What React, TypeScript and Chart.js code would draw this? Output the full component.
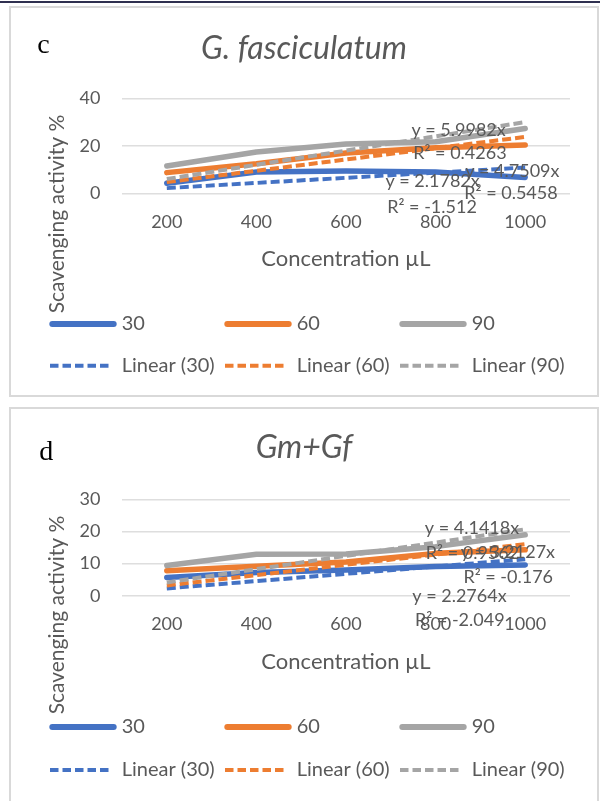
import React, { useEffect, useRef } from 'react';
import { Chart, registerables } from 'chart.js';

Chart.register(...registerables);

// ---------- data ----------
const categories = ['200', '400', '600', '800', '1000'];
const seriesLabels = ['30', '60', '90'];
const trendLabels = ['Linear (30)', 'Linear (60)', 'Linear (90)'];
const seriesColors = ['#4472C4', '#ED7D31', '#A5A5A5'];

// panel c : G. fasciculatum
const fascValues30 = [4.2, 9.0, 9.4, 9.0, 6.7];
const fascValues60 = [8.7, 12.4, 17.0, 19.2, 20.3];
const fascValues90 = [11.5, 17.4, 20.8, 21.7, 27.3];
const fascTrend30 = [2.18, 4.36, 6.53, 8.71, 10.89];
const fascTrend60 = [4.75, 9.5, 14.25, 19.0, 23.75];
const fascTrend90 = [6.0, 12.0, 17.99, 23.99, 29.99];
const fascNoteText = ['y = 5.9982x', 'R² = 0.4263', 'y = 4.7509x', 'R² = 0.5458', 'y = 2.1782x', 'R² = -1.512'];
const fascNoteX = [2.73, 2.75, 3.33, 3.32, 2.44, 2.46];
const fascNoteY = [26.4, 17.0, 9.4, 0.1, 5.3, -5.8];
const fascTicks = [0, 20, 40];

// panel d : Gm+Gf
const mixValues30 = [5.7, 7.2, 8.0, 9.1, 9.6];
const mixValues60 = [7.8, 9.2, 10.5, 13.2, 14.3];
const mixValues90 = [9.4, 12.9, 13.0, 15.3, 19.0];
const mixTrend30 = [2.28, 4.55, 6.83, 9.11, 11.38];
const mixTrend60 = [3.21, 6.43, 9.64, 12.85, 16.06];
const mixTrend90 = [4.14, 8.28, 12.43, 16.57, 20.71];
const mixNoteText = ['y = 4.1418x', 'R² = 0.9562', 'y = 3.2127x', 'R² = -0.176', 'y = 2.2764x', 'R² = -2.049'];
const mixNoteX = [2.88, 2.89, 3.28, 3.31, 2.74, 2.77];
const mixNoteY = [21.1, 13.2, 13.7, 5.9, -0.3, -7.6];
const mixTicks = [0, 10, 20, 30];

const TEXT = '#595959';
const FONT = 'Lato, "Open Sans", sans-serif';

type PanelProps = {
  width: number;
  height: number;
  letter: string;
  letterX: number;
  letterY: number;
  title: string;
  titleY: number;
  ticks: number[];
  values: number[][];
  trends: number[][];
  noteText: string[];
  noteX: number[];
  noteY: number[];
  padTop: number;
  padBottom: number;
  yTitleY: number;
  xTitleY: number;
  legendY1: number;
  legendY2: number;
};

function Panel(p: PanelProps) {
  const ref = useRef<HTMLCanvasElement | null>(null);

  useEffect(() => {
    const canvas = ref.current;
    if (!canvas) return;

    const datasets: any[] = [];
    p.values.forEach((vals, i) => {
      datasets.push({
        label: seriesLabels[i],
        data: vals,
        borderColor: seriesColors[i],
        backgroundColor: seriesColors[i],
        borderWidth: 5.5,
        borderCapStyle: 'round',
        borderJoinStyle: 'round',
        pointRadius: 0,
        tension: 0,
        fill: false,
        order: 6 - i,
      });
    });
    p.trends.forEach((vals, i) => {
      datasets.push({
        label: trendLabels[i],
        data: vals,
        borderColor: seriesColors[i],
        backgroundColor: seriesColors[i],
        borderWidth: 4,
        borderDash: [9, 4],
        borderCapStyle: 'butt',
        pointRadius: 0,
        tension: 0,
        fill: false,
        order: 3 - i,
      });
    });

    const textPlugin = {
      id: 'panelText',
      afterDraw(chart: any) {
        const ctx = chart.ctx as CanvasRenderingContext2D;
        const area = chart.chartArea;
        const xs = chart.scales.x;
        const ys = chart.scales.y;
        ctx.save();
        // panel letter
        ctx.fillStyle = '#000000';
        ctx.font = '28px "Liberation Serif", "Times New Roman", serif';
        ctx.textAlign = 'left';
        ctx.textBaseline = 'alphabetic';
        ctx.fillText(p.letter, p.letterX, p.letterY);
        // title
        ctx.fillStyle = TEXT;
        ctx.font = 'italic 32px ' + FONT;
        ctx.textAlign = 'center';
        ctx.fillText(p.title, p.width / 2, p.titleY);
        // x title
        ctx.font = '22px ' + FONT;
        ctx.textBaseline = 'middle';
        ctx.fillText('Concentration µL', (area.left + area.right) / 2, p.xTitleY);
        // y title
        ctx.save();
        ctx.translate(46, p.yTitleY);
        ctx.rotate(-Math.PI / 2);
        ctx.font = '21px ' + FONT;
        ctx.fillText('Scavenging activity %', 0, 0);
        ctx.restore();
        // trendline equations
        ctx.font = '18px ' + FONT;
        ctx.textAlign = 'left';
        ctx.textBaseline = 'middle';
        p.noteText.forEach((t, i) => {
          ctx.fillText(t, xs.getPixelForValue(p.noteX[i]), ys.getPixelForValue(p.noteY[i]));
        });
        // legend
        ctx.font = '20px ' + FONT;
        for (let i = 0; i < 3; i++) {
          const cx = 38.3 + i * 175;
          ctx.strokeStyle = seriesColors[i];
          ctx.lineWidth = 6;
          ctx.lineCap = 'round';
          ctx.setLineDash([]);
          ctx.beginPath();
          ctx.moveTo(cx + 3, p.legendY1);
          ctx.lineTo(cx + 64.4, p.legendY1);
          ctx.stroke();
          ctx.fillStyle = TEXT;
          ctx.fillText(seriesLabels[i], cx + 72.4, p.legendY1);

          ctx.lineWidth = 4;
          ctx.lineCap = 'butt';
          ctx.setLineDash([8.5, 4]);
          ctx.beginPath();
          ctx.moveTo(cx + 0.7, p.legendY2);
          ctx.lineTo(cx + 61.4, p.legendY2);
          ctx.stroke();
          ctx.setLineDash([]);
          ctx.fillText(trendLabels[i], cx + 72.4, p.legendY2);
        }
        ctx.restore();
      },
    };

    const yMax = p.ticks[p.ticks.length - 1];
    const chart = new Chart(canvas, {
      type: 'line',
      data: { labels: categories, datasets },
      options: {
        responsive: false,
        animation: false,
        layout: { padding: { top: p.padTop, right: 27, bottom: p.padBottom, left: 0 } },
        plugins: {
          legend: { display: false },
          title: { display: false },
          tooltip: { enabled: false },
        },
        scales: {
          x: {
            type: 'category',
            offset: true,
            grid: { display: false, drawTicks: false },
            border: { display: false },
            ticks: { color: TEXT, font: { family: FONT, size: 18 }, padding: 18, maxRotation: 0, autoSkip: false },
            afterFit: (s: any) => {
              s.height = 60;
            },
          },
          y: {
            min: 0,
            max: yMax,
            afterBuildTicks: (s: any) => {
              s.ticks = p.ticks.map((v) => ({ value: v }));
            },
            grid: { color: '#dedede', lineWidth: 1.6, drawTicks: false },
            border: { display: false },
            ticks: { color: TEXT, font: { family: FONT, size: 18 }, padding: 21.6 },
            afterFit: (s: any) => {
              s.width = 111;
            },
          },
        },
      },
      plugins: [textPlugin],
    });
    return () => chart.destroy();
  }, []);

  return (
    <canvas
      ref={ref}
      width={p.width}
      height={p.height}
      style={{ display: 'block', width: p.width, height: p.height }}
    />
  );
}

export default function App() {
  return (
    <div
      style={{
        position: 'absolute',
        left: 0,
        top: 0,
        width: 600,
        height: 801,
        overflow: 'hidden',
        background: '#ffffff',
      }}
    >
      <div style={{ position: 'absolute', left: 0, top: 1, width: 600, height: 2, background: '#2f3050' }} />
      <div
        style={{
          position: 'absolute',
          left: 9,
          top: 6,
          width: 586,
          height: 387,
          border: '2px solid #d9d9d9',
        }}
      >
        <Panel
          width={586}
          height={387}
          letter="c"
          letterX={26.3}
          letterY={45.3}
          title="G. fasciculatum"
          titleY={51.3}
          ticks={fascTicks}
          values={[fascValues30, fascValues60, fascValues90]}
          trends={[fascTrend30, fascTrend60, fascTrend90]}
          noteText={fascNoteText}
          noteX={fascNoteX}
          noteY={fascNoteY}
          padTop={90.3}
          padBottom={141.7}
          yTitleY={206}
          xTitleY={251}
          legendY1={316}
          legendY2={357.7}
        />
      </div>
      <div
        style={{
          position: 'absolute',
          left: 9,
          top: 407,
          width: 586,
          height: 400,
          border: '2px solid #d9d9d9',
        }}
      >
        <Panel
          width={586}
          height={392}
          letter="d"
          letterX={28.3}
          letterY={51}
          title="Gm+Gf"
          titleY={49.3}
          ticks={mixTicks}
          values={[mixValues30, mixValues60, mixValues90]}
          trends={[mixTrend30, mixTrend60, mixTrend90]}
          noteText={mixNoteText}
          noteX={mixNoteX}
          noteY={mixNoteY}
          padTop={90.5}
          padBottom={145.3}
          yTitleY={206}
          xTitleY={252.7}
          legendY1={318}
          legendY2={361}
        />
      </div>
    </div>
  );
}
